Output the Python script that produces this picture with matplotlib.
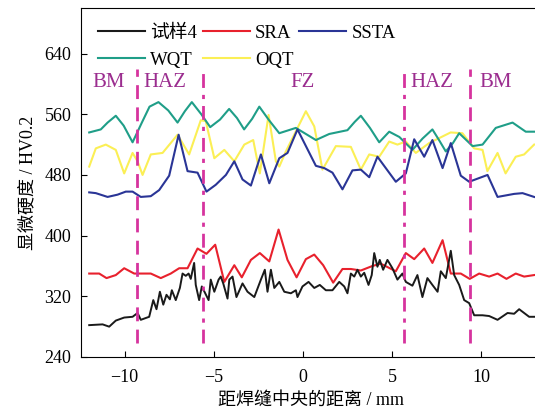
import matplotlib
matplotlib.use("Agg")
import matplotlib.pyplot as plt
from matplotlib.lines import Line2D

plt.rcParams['font.family'] = ['Liberation Serif', 'Noto Sans CJK SC', 'DejaVu Sans']

# Microhardness profiles (distance from weld centre, mm / HV0.2)
x_s4 = [-11.98, -11.23, -10.86, -10.49, -10.02, -9.55, -9.27, -9.09, -8.62, -8.39,
        -8.21, -8.02, -7.83, -7.65, -7.46, -7.35, -7.13, -6.90, -6.75, -6.57,
        -6.41, -6.29, -6.10, -6.01, -5.82, -5.67, -5.48, -5.29, -5.17, -4.97,
        -4.73, -4.61, -4.47, -4.23, -4.13, -3.95, -3.73, -3.39, -3.11, -2.73,
        -2.36, -2.14, -1.99, -1.80, -1.61, -1.33, -1.05, -0.68, -0.40, -0.31,
        -0.03, 0.31, 0.63, 0.94, 1.28, 1.65, 2.03, 2.31, 2.49, 2.68,
        2.87, 3.05, 3.24, 3.43, 3.67, 3.85, 3.99, 4.17, 4.30, 4.49,
        4.73, 5.01, 5.29, 5.57, 5.76, 6.13, 6.41, 6.69, 6.97, 7.25,
        7.54, 7.72, 8.00, 8.28, 8.47, 8.75, 9.03, 9.31, 9.59, 10.06,
        10.43, 10.90, 11.46, 11.83, 12.11, 12.67, 12.95]
hv_s4 = [282, 283, 280, 288, 292, 293, 298, 289, 293, 315,
         303, 326, 309, 322, 316, 328, 315, 331, 350, 347,
         350, 343, 364, 335, 315, 333, 324, 315, 342, 326,
         342, 346, 337, 317, 342, 346, 319, 337, 326, 319,
         342, 355, 326, 355, 331, 339, 326, 324, 328, 319,
         333, 339, 331, 335, 328, 328, 339, 333, 324, 350,
         346, 355, 346, 351, 335, 348, 377, 359, 368, 355,
         368, 357, 342, 350, 339, 334, 348, 319, 344, 335,
         326, 353, 344, 380, 348, 335, 315, 311, 295, 295,
         294, 289, 298, 297, 303, 293, 293]

x_sra = [-11.98, -11.42, -11.01, -10.49, -10.02, -9.46, -8.53, -7.97, -7.41, -6.94,
         -6.47, -5.91, -5.41, -4.92, -4.41, -3.85, -3.43, -2.92, -2.42, -1.89,
         -1.37, -0.87, -0.36, 0.16, 0.63, 1.13, 1.69, 2.21, 2.68, 3.24,
         3.89, 4.36, 5.20, 5.76, 6.23, 6.79, 7.25, 7.82, 8.28, 8.84,
         9.34, 9.87, 10.43, 10.90, 11.40, 11.92, 12.39, 12.95]
hv_sra = [350, 350, 344, 348, 357, 350, 350, 344, 350, 357,
          357, 383, 376, 388, 339, 361, 345, 368, 377, 366,
          408, 368, 345, 369, 375, 361, 338, 356, 356, 354,
          360, 363, 353, 377, 369, 383, 364, 394, 350, 350,
          343, 350, 346, 350, 343, 350, 346, 348]

x_ssta = [-11.98, -11.61, -10.95, -10.39, -9.93, -9.55, -9.09, -8.53, -8.06, -7.50,
          -6.97, -6.47, -5.91, -5.41, -4.89, -4.32, -3.85, -3.39, -2.92, -2.36,
          -1.89, -1.33, -0.87, -0.31, 0.72, 1.19, 1.65, 2.21, 2.77, 3.24,
          3.71, 4.17, 5.20, 5.76, 6.23, 6.79, 7.25, 7.82, 8.28, 8.84,
          9.31, 10.34, 10.90, 11.83, 12.30, 12.95]
hv_ssta = [457, 456, 451, 454, 458, 458, 451, 452, 460, 479,
           533, 485, 483, 458, 467, 480, 498, 474, 466, 507,
           469, 502, 509, 540, 492, 489, 483, 461, 486, 487,
           477, 504, 471, 482, 527, 504, 526, 489, 522, 479,
           471, 480, 451, 455, 456, 451]

x_wqt = [-11.98, -11.33, -10.95, -10.49, -10.05, -9.55, -9.05, -8.60, -8.10, -7.55,
         -7.03, -6.62, -6.23, -5.70, -5.20, -4.65, -4.14, -3.70, -3.30, -2.85,
         -2.45, -1.90, -1.33, -0.40, 0.72, 1.47, 2.49, 2.90, 3.24, 3.75,
         4.27, 4.83, 5.40, 6.13, 6.70, 7.25, 7.62, 8.00, 8.40, 8.75,
         9.50, 10.06, 10.80, 11.74, 12.48, 12.95]
hv_wqt = [536, 540, 549, 558, 545, 523, 548, 570, 576, 565,
          549, 564, 576, 560, 543, 553, 567, 555, 540, 554,
          570, 552, 535, 542, 526, 534, 539, 550, 558, 542,
          523, 537, 530, 513, 528, 540, 526, 511, 522, 535,
          518, 520, 542, 549, 537, 537]

x_oqt = [-11.98, -11.61, -11.05, -10.49, -10.02, -9.55, -9.27, -8.99, -8.53, -7.87,
         -7.03, -6.38, -5.73, -5.45, -4.97, -4.41, -3.85, -3.29, -2.79, -2.42,
         -1.93, -1.52, -1.33, -0.96, 0.16, 0.63, 1.09, 1.84, 2.68, 3.24,
         3.71, 4.27, 4.83, 5.29, 5.76, 6.32, 7.07, 8.27, 8.93, 9.59,
         10.06, 10.33, 10.90, 11.35, 11.92, 12.39, 12.95]
hv_oqt = [491, 515, 520, 513, 482, 509, 498, 480, 507, 509,
          533, 507, 552, 551, 502, 513, 498, 520, 526, 482,
          559, 498, 491, 511, 564, 544, 487, 518, 517, 487,
          507, 504, 524, 520, 524, 509, 522, 536, 535, 515,
          513, 485, 509, 482, 504, 507, 520]

# zone boundaries and labels
bounds = [-9.33, -5.58, 5.66, 9.33]
zone_names = ['BM', 'HAZ', 'FZ', 'HAZ', 'BM']
zone_x = [-10.9, -7.76, 0.0, 7.2, 10.8]

fig = plt.figure(figsize=(5.35, 4.12), dpi=100)
ax = fig.add_axes([0.1514, 0.1335, 0.86, 0.847])

ax.plot(x_oqt, hv_oqt, color='#fbef55', lw=1.5, label='OQT')
ax.plot(x_wqt, hv_wqt, color='#1f9e88', lw=1.5, label='WQT')
ax.plot(x_ssta, hv_ssta, color='#2a3596', lw=1.5, label='SSTA')
ax.plot(x_sra, hv_sra, color='#e8212d', lw=1.5, label='SRA')
ax.plot(x_s4, hv_s4, color='#1a1a1a', lw=1.4, label='试样4')

# dashed zone boundaries
for i, b in enumerate(bounds):
    dash = (5, 3) if i in (0, 3) else (5, 2.5, 1.5, 2.5)
    ax.plot([b, b], [258, 619], color='#d6339e', lw=2, dashes=dash)

for name, zx in zip(zone_names, zone_x):
    ax.text(zx, 602, name, color='#9b2d8f', fontsize=15, ha='center', va='center')

ax.set_xlim(-12.44, 13.34)
ax.set_ylim(240, 700)
ax.set_xticks([-10, -5, 0, 5, 10])
ax.set_yticks([240, 320, 400, 480, 560, 640])
ax.set_xticklabels(['\u221210', '\u22125', '0', '5', '10'])
ax.tick_params(direction='in', labelsize=13, length=4, top=False, right=False)
ax.tick_params(axis='x', pad=9)
ax.tick_params(axis='y', pad=7)
ax.set_xlabel('距焊缝中央的距离 / mm', fontsize=13, labelpad=4)
ax.set_ylabel('显微硬度 / HV0.2', fontsize=13, labelpad=6)

names = ['试样4', 'WQT', 'SRA', 'OQT', 'SSTA']
cols = {'试样4': '#1a1a1a', 'WQT': '#1f9e88', 'SRA': '#e8212d',
        'OQT': '#fbef55', 'SSTA': '#2a3596'}
handles = [Line2D([], [], color=cols[n], lw=1.5) for n in names]
ax.legend(handles, names, ncol=3, loc='upper left', bbox_to_anchor=(0.02, 0.975),
          frameon=False, fontsize=13.5, handlelength=2.5, handletextpad=0.3,
          columnspacing=0.3, labelspacing=0.55, borderaxespad=0)

fig.savefig('out.png', dpi=100)
